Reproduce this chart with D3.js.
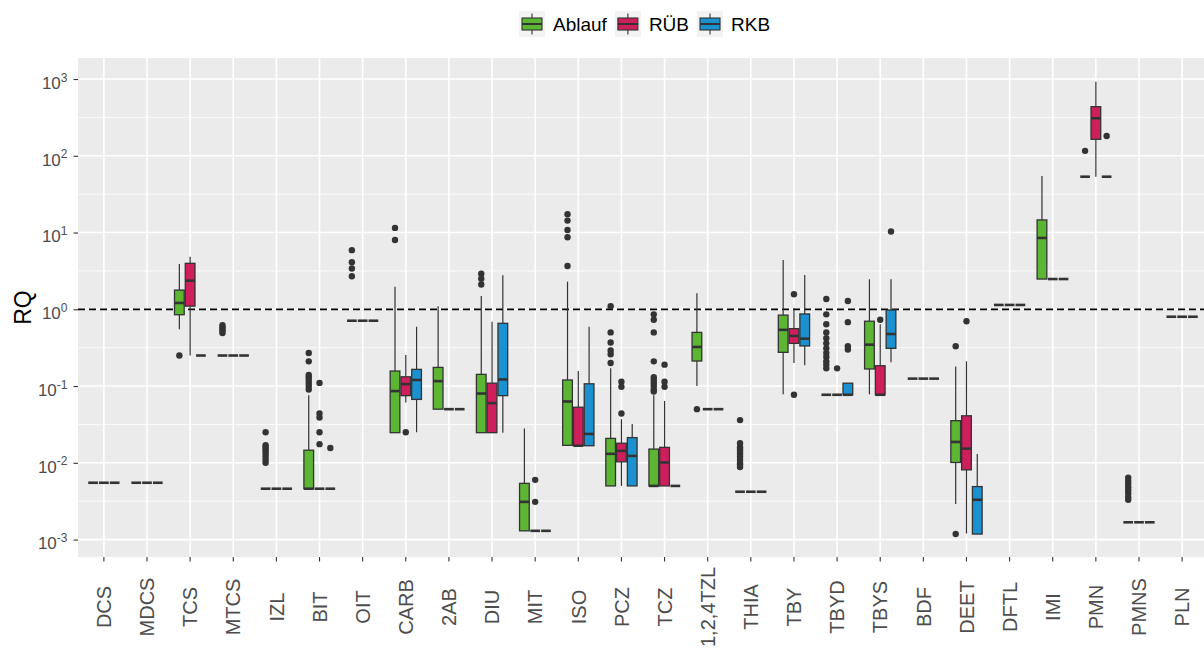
<!DOCTYPE html>
<html>
<head>
<meta charset="utf-8">
<script src="https://cdn.jsdelivr.net/npm/d3@7"></script>
<style>
  html, body { margin: 0; padding: 0; background: #fff; }
  svg { display: block; font-family: 'Liberation Sans', Arial, sans-serif; }
</style>
</head>
<body>
<svg id="chart" width="1204" height="648"></svg>
<script>
const categories = ['DCS', 'MDCS', 'TCS', 'MTCS', 'IZL', 'BIT', 'OIT', 'CARB', '2AB', 'DIU', 'MIT', 'ISO', 'PCZ',
  'TCZ', '1,2,4TZL', 'THIA', 'TBY', 'TBYD', 'TBYS', 'BDF', 'DEET', 'DFTL', 'IMI', 'PMN', 'PMNS', 'PLN'];

const seriesNames = ['Ablauf', 'RÜB', 'RKB'];
const seriesColors = ['#5DB534', '#CF1E5C', '#1C91D0'];

// [lower whisker, q1, median, q3, upper whisker] per category
const ablaufStats = [
  [0.0055, 0.0055, 0.0055, 0.0055, 0.0055],
  [0.0055, 0.0055, 0.0055, 0.0055, 0.0055],
  [0.55, 0.85, 1.21, 1.78, 3.9],
  [0.25, 0.25, 0.25, 0.25, 0.25],
  [0.0046, 0.0046, 0.0046, 0.0046, 0.0046],
  [0.0046, 0.0046, 0.0046, 0.0146, 0.076],
  [0.71, 0.71, 0.71, 0.71, 0.71],
  [0.0247, 0.0247, 0.086, 0.157, 1.97],
  [0.05, 0.05, 0.116, 0.175, 1.1],
  [0.0247, 0.0247, 0.08, 0.142, 1.49],
  [0.0013, 0.0013, 0.0031, 0.0054, 0.028],
  [0.0169, 0.0169, 0.063, 0.12, 2.29],
  [0.005, 0.005, 0.0131, 0.0208, 0.17],
  [0.005, 0.005, 0.005, 0.0151, 0.076],
  [0.1, 0.212, 0.323, 0.5, 1.62],
  [0.0042, 0.0042, 0.0042, 0.0042, 0.0042],
  [0.078, 0.275, 0.54, 0.84, 4.4],
  [0.077, 0.077, 0.077, 0.077, 0.077],
  [0.078, 0.167, 0.346, 0.7, 2.46],
  [0.125, 0.125, 0.125, 0.125, 0.125],
  [0.0029, 0.0101, 0.0187, 0.0354, 0.18],
  [1.14, 1.14, 1.14, 1.14, 1.14],
  [2.48, 2.48, 8.5, 14.6, 54.6],
  [53.4, 53.4, 53.4, 53.4, 53.4],
  [0.00168, 0.00168, 0.00168, 0.00168, 0.00168],
  [0.8, 0.8, 0.8, 0.8, 0.8]
];

const ruebStats = [
  [0.0055, 0.0055, 0.0055, 0.0055, 0.0055],
  [0.0055, 0.0055, 0.0055, 0.0055, 0.0055],
  [0.25, 1.1, 2.36, 3.97, 4.85],
  [0.25, 0.25, 0.25, 0.25, 0.25],
  [0.0046, 0.0046, 0.0046, 0.0046, 0.0046],
  [0.0046, 0.0046, 0.0046, 0.0046, 0.0046],
  [0.71, 0.71, 0.71, 0.71, 0.71],
  [0.061, 0.075, 0.106, 0.132, 0.254],
  [0.05, 0.05, 0.05, 0.05, 0.05],
  [0.0247, 0.0247, 0.06, 0.109, 0.69],
  [0.0013, 0.0013, 0.0013, 0.0013, 0.0013],
  [0.0167, 0.0167, 0.0167, 0.053, 0.157],
  [0.005, 0.0103, 0.0143, 0.018, 0.037],
  [0.005, 0.005, 0.0101, 0.0159, 0.064],
  [0.05, 0.05, 0.05, 0.05, 0.05],
  [0.0042, 0.0042, 0.0042, 0.0042, 0.0042],
  [0.2, 0.36, 0.45, 0.56, 1.03],
  [0.077, 0.077, 0.077, 0.077, 0.077],
  [0.077, 0.077, 0.077, 0.184, 0.64],
  [0.125, 0.125, 0.125, 0.125, 0.125],
  [0.0012, 0.0081, 0.0153, 0.041, 0.21],
  [1.14, 1.14, 1.14, 1.14, 1.14],
  [2.48, 2.48, 2.48, 2.48, 2.48],
  [53.4, 164, 308, 436, 924],
  [0.00168, 0.00168, 0.00168, 0.00168, 0.00168],
  [0.8, 0.8, 0.8, 0.8, 0.8]
];

const rkbStats = [
  [0.0055, 0.0055, 0.0055, 0.0055, 0.0055],
  [0.0055, 0.0055, 0.0055, 0.0055, 0.0055],
  [0.25, 0.25, 0.25, 0.25, 0.25],
  [0.25, 0.25, 0.25, 0.25, 0.25],
  [0.0046, 0.0046, 0.0046, 0.0046, 0.0046],
  [0.0046, 0.0046, 0.0046, 0.0046, 0.0046],
  [0.71, 0.71, 0.71, 0.71, 0.71],
  [0.025, 0.067, 0.12, 0.165, 0.593],
  [0.05, 0.05, 0.05, 0.05, 0.05],
  [0.0247, 0.075, 0.122, 0.657, 2.77],
  [0.0013, 0.0013, 0.0013, 0.0013, 0.0013],
  [0.0167, 0.0167, 0.0238, 0.107, 0.593],
  [0.005, 0.005, 0.0123, 0.0213, 0.032],
  [0.005, 0.005, 0.005, 0.005, 0.005],
  [0.05, 0.05, 0.05, 0.05, 0.05],
  [0.0042, 0.0042, 0.0042, 0.0042, 0.0042],
  [0.186, 0.333, 0.414, 0.87, 2.8],
  [0.077, 0.077, 0.077, 0.109, 0.109],
  [0.204, 0.31, 0.477, 0.98, 2.46],
  [0.125, 0.125, 0.125, 0.125, 0.125],
  [0.00118, 0.00118, 0.0033, 0.0049, 0.013],
  [1.14, 1.14, 1.14, 1.14, 1.14],
  [2.48, 2.48, 2.48, 2.48, 2.48],
  [53.4, 53.4, 53.4, 53.4, 53.4],
  [0.00168, 0.00168, 0.00168, 0.00168, 0.00168],
  [0.8, 0.8, 0.8, 0.8, 0.8]
];

const ablaufOutliers = [
  [], [], [0.25], [0.62, 0.58, 0.55, 0.52, 0.49],
  [0.025, 0.017, 0.016, 0.015, 0.014, 0.013, 0.012, 0.011, 0.01],
  [0.27, 0.21, 0.14, 0.13, 0.12, 0.11, 0.1, 0.09],
  [5.9, 4.1, 3.4, 2.7],
  [11.5, 8.0], [], [2.9, 2.5, 2.1], [],
  [17.3, 14.3, 10.8, 8.7, 3.67],
  [1.1, 0.5, 0.37, 0.29, 0.26, 0.2],
  [0.86, 0.73, 0.5, 0.21, 0.13, 0.12, 0.11, 0.1, 0.09, 0.085],
  [0.05],
  [0.036, 0.018, 0.016, 0.015, 0.014, 0.013, 0.012, 0.011, 0.01, 0.0095, 0.0088],
  [],
  [1.36, 0.86, 0.64, 0.5, 0.42, 0.36, 0.31, 0.27, 0.24, 0.21, 0.19, 0.17],
  [], [], [0.33, 0.00118], [], [], [116],
  [0.0064, 0.0058, 0.0053, 0.0048, 0.0044, 0.004, 0.0036, 0.0033],
  []
];

const ruebOutliers = [
  [], [], [], [], [],
  [0.11, 0.044, 0.039, 0.025, 0.0175],
  [], [0.025], [], [], [0.006, 0.0031], [],
  [0.114, 0.098, 0.044],
  [0.19, 0.114, 0.098],
  [], [], [1.57, 0.077], [0.17], [0.73], [], [0.7], [], [], [], [], []
];

const rkbOutliers = [
  [], [], [], [], [], [0.0156], [], [], [], [], [], [], [], [], [], [], [],
  [1.28, 0.68, 0.33, 0.3], [10.3], [], [], [], [], [181], [], []
];

const yTicks = [1e-3, 1e-2, 1e-1, 1e0, 1e1, 1e2, 1e3];
const yMinor = [10 ** -2.5, 10 ** -1.5, 10 ** -0.5, 10 ** 0.5, 10 ** 1.5, 10 ** 2.5];
const refLine = 1;

const series = seriesNames.map((name, j) => ({
  name,
  color: seriesColors[j],
  stats: [ablaufStats, ruebStats, rkbStats][j],
  outliers: [ablaufOutliers, ruebOutliers, rkbOutliers][j]
}));

const svg = d3.select('#chart');
const panel = { left: 78, right: 1208, top: 58, bottom: 557 };

const x = d3.scaleBand()
  .domain(categories)
  .range([panel.left, panel.right])
  .paddingInner(0)
  .paddingOuter(0.1);

const y = d3.scaleLog()
  .domain([10 ** -3.227, 10 ** 3.274])
  .range([panel.bottom, panel.top]);

const dodge = x.step() * 0.75 / 3;
const boxW = dodge * 0.9;
const cxOf = (cat, j) => x(cat) + x.bandwidth() / 2 + (j - 1) * dodge;

// panel background + grid
svg.append('rect')
  .attr('x', panel.left)
  .attr('y', panel.top)
  .attr('width', panel.right - panel.left)
  .attr('height', panel.bottom - panel.top)
  .style('fill', '#EBEBEB');

const grid = svg.append('g');
grid.selectAll('.minor')
  .data(yMinor)
  .join('line')
  .attr('x1', panel.left).attr('x2', panel.right)
  .attr('y1', d => y(d)).attr('y2', d => y(d))
  .style('stroke', '#fff')
  .style('stroke-width', 0.8);
grid.selectAll('.major-y')
  .data(yTicks)
  .join('line')
  .attr('x1', panel.left).attr('x2', panel.right)
  .attr('y1', d => y(d)).attr('y2', d => y(d))
  .style('stroke', '#fff')
  .style('stroke-width', 1.6);
grid.selectAll('.major-x')
  .data(categories)
  .join('line')
  .attr('x1', d => x(d) + x.bandwidth() / 2).attr('x2', d => x(d) + x.bandwidth() / 2)
  .attr('y1', panel.top).attr('y2', panel.bottom)
  .style('stroke', '#fff')
  .style('stroke-width', 1.6);

// reference line at RQ = 1
svg.append('line')
  .attr('x1', panel.left).attr('x2', panel.right)
  .attr('y1', y(refLine)).attr('y2', y(refLine))
  .style('stroke', '#000')
  .style('stroke-width', 1.8)
  .style('stroke-dasharray', '7,4');

// boxes
series.forEach((s, j) => {
  const g = svg.append('g').attr('class', 'series');
  categories.forEach((cat, i) => {
    const [lo, q1, med, q3, hi] = s.stats[i];
    const cx = cxOf(cat, j);
    g.append('line')
      .attr('x1', cx).attr('x2', cx)
      .attr('y1', y(hi)).attr('y2', y(q3))
      .style('stroke', '#333')
      .style('stroke-width', 1.2);
    g.append('line')
      .attr('x1', cx).attr('x2', cx)
      .attr('y1', y(q1)).attr('y2', y(lo))
      .style('stroke', '#333')
      .style('stroke-width', 1.2);
    g.append('rect')
      .attr('x', cx - boxW / 2)
      .attr('y', y(q3))
      .attr('width', boxW)
      .attr('height', y(q1) - y(q3))
      .style('fill', s.color)
      .style('stroke', '#333')
      .style('stroke-width', 1.3);
    g.append('line')
      .attr('x1', cx - boxW / 2).attr('x2', cx + boxW / 2)
      .attr('y1', y(med)).attr('y2', y(med))
      .style('stroke', '#333')
      .style('stroke-width', 2.6);
    g.selectAll(null)
      .data(s.outliers[i])
      .join('circle')
      .attr('cx', cx)
      .attr('cy', d => y(d))
      .attr('r', 3.2)
      .style('fill', '#333');
  });
});

// y axis
const yAxis = svg.append('g')
  .attr('transform', `translate(${panel.left},0)`)
  .call(d3.axisLeft(y).tickValues(yTicks).tickSize(4.5).tickPadding(6).tickFormat(() => ''));
yAxis.select('.domain').remove();
yAxis.selectAll('.tick line').style('stroke', '#333').style('stroke-width', 1.1);
yAxis.selectAll('.tick text')
  .style('font-size', '17px')
  .style('fill', '#4D4D4D')
  .attr('dy', '0.55em')
  .each(function (d) {
    const t = d3.select(this);
    t.append('tspan').text('10');
    t.append('tspan')
      .attr('dy', '-0.6em')
      .style('font-size', '12px')
      .text(Math.round(Math.log10(d)));
  });

// x axis
const xAxis = svg.append('g')
  .attr('transform', `translate(0,${panel.bottom})`)
  .call(d3.axisBottom(x).tickSize(4.5));
xAxis.select('.domain').remove();
xAxis.selectAll('.tick line').style('stroke', '#333').style('stroke-width', 1.1);
xAxis.selectAll('.tick text')
  .attr('y', 0)
  .attr('dy', '0.36em')
  .attr('transform', 'translate(0,50) rotate(-90)')
  .style('text-anchor', 'middle')
  .style('font-size', '20px')
  .style('fill', '#4D4D4D');

// axis title
svg.append('text')
  .attr('transform', `translate(31,${(panel.top + panel.bottom) / 2}) rotate(-90)`)
  .style('text-anchor', 'middle')
  .style('font-size', '23px')
  .style('fill', '#000')
  .text('RQ');

// legend
const legend = svg.append('g').attr('transform', 'translate(519,11)');
let lx = 0;
series.forEach(s => {
  const item = legend.append('g').attr('transform', `translate(${lx},0)`);
  item.append('rect')
    .attr('width', 26).attr('height', 26)
    .style('fill', '#F2F2F2');
  item.append('line')
    .attr('x1', 13).attr('x2', 13)
    .attr('y1', 2.5).attr('y2', 23.5)
    .style('stroke', '#333')
    .style('stroke-width', 1.1);
  item.append('rect')
    .attr('x', 3).attr('y', 7)
    .attr('width', 20).attr('height', 12)
    .style('fill', s.color)
    .style('stroke', '#333')
    .style('stroke-width', 1.1);
  item.append('line')
    .attr('x1', 3).attr('x2', 23)
    .attr('y1', 13).attr('y2', 13)
    .style('stroke', '#333')
    .style('stroke-width', 2);
  const label = item.append('text')
    .attr('x', 34)
    .attr('y', 20)
    .style('font-size', '19px')
    .style('fill', '#000')
    .text(s.name);
  lx += 34 + label.node().getComputedTextLength() + 8;
});
</script>
</body>
</html>
